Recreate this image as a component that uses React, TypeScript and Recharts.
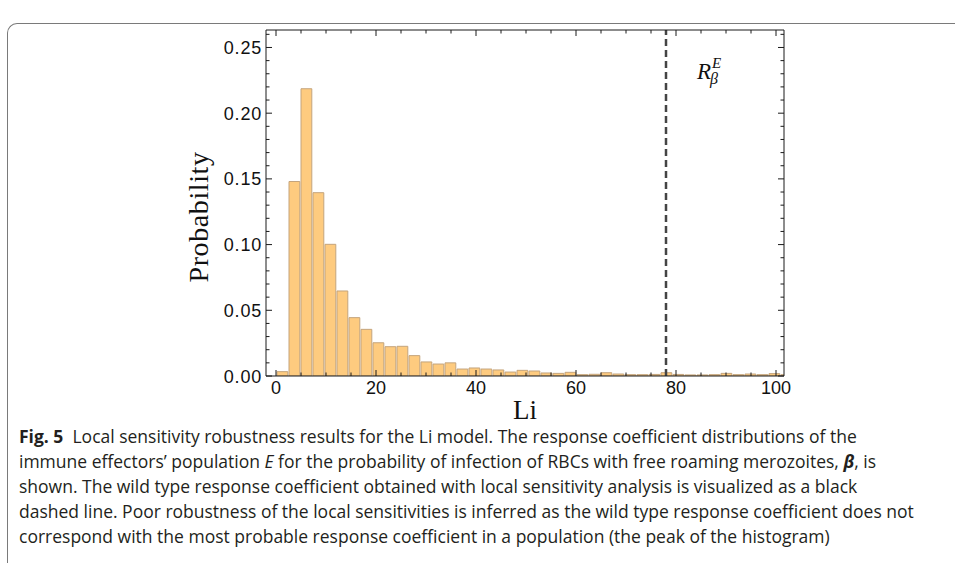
import React from 'react';
import { ComposedChart, Bar, XAxis, YAxis, ReferenceLine } from 'recharts';

// histogram bins (left edges, width 2.4) and probabilities
const binWidth = 2.4;
const binStarts = [
  0, 2.4, 4.8, 7.2, 9.6, 12, 14.4, 16.8, 19.2, 21.6, 24, 26.4, 28.8, 31.2, 33.6,
  36, 38.4, 40.8, 43.2, 45.6, 48, 50.4, 52.8, 55.2, 57.6, 60, 62.4, 64.8, 67.2,
  69.6, 72, 74.4, 76.8, 79.2, 81.6, 84, 86.4, 88.8, 91.2, 93.6, 96, 98.4, 100.8,
];
const probabilities = [
  0.0033, 0.148, 0.2186, 0.1395, 0.1002, 0.0647, 0.0444, 0.0355, 0.0253, 0.0223,
  0.0226, 0.0155, 0.0107, 0.0091, 0.01, 0.0053, 0.0061, 0.0053, 0.0046, 0.003,
  0.0043, 0.0038, 0.0023, 0.002, 0.0028, 0.001, 0.0013, 0.0025, 0.0015, 0.001,
  0.001, 0.0012, 0.0025, 0.0012, 0.0008, 0.0008, 0.001, 0.002, 0.001, 0.0015,
  0.001, 0.0018, 0.001,
];
const wildType = 78;

const xTicks = [0, 5, 10, 15, 20, 25, 30, 35, 40, 45, 50, 55, 60, 65, 70, 75, 80, 85, 90, 95, 100];
const xLabels = [0, 20, 40, 60, 80, 100];
const yTicks = [
  0, 0.01, 0.02, 0.03, 0.04, 0.05, 0.06, 0.07, 0.08, 0.09, 0.1, 0.11, 0.12, 0.13,
  0.14, 0.15, 0.16, 0.17, 0.18, 0.19, 0.2, 0.21, 0.22, 0.23, 0.24, 0.25, 0.26,
];
const yLabels = [0, 0.05, 0.1, 0.15, 0.2, 0.25];

const X_DOMAIN: [number, number] = [-2, 101.6];
const Y_DOMAIN: [number, number] = [0, 0.2633];

const data = binStarts.map((s, i) => ({ x: s + binWidth / 2, p: probabilities[i] }));

const FRAME = '#1a1a1a';
const TICK_FONT = 'Liberation Sans, Arial, sans-serif';
const SERIF = 'Liberation Serif, Times New Roman, serif';

const isLabelX = (v: number) => xLabels.includes(v);
const isLabelY = (v: number) => yLabels.some((l) => Math.abs(l - v) < 1e-9);

const BottomTick = ({ x, y, payload }: any) => {
  const major = isLabelX(payload.value);
  return (
    <g>
      <line x1={x} y1={y} x2={x} y2={y - (major ? 6 : 3.5)} stroke={FRAME} strokeWidth={1} />
      {major && (
        <text x={x} y={y + 18} textAnchor="middle" style={{ fontSize: 18, fontFamily: TICK_FONT }} fill="#111">
          {payload.value}
        </text>
      )}
    </g>
  );
};

const TopTick = ({ x, y, payload }: any) => {
  const major = isLabelX(payload.value);
  return <line x1={x} y1={y} x2={x} y2={y + (major ? 6 : 3.5)} stroke={FRAME} strokeWidth={1} />;
};

const LeftTick = ({ x, y, payload }: any) => {
  const major = isLabelY(payload.value);
  return (
    <g>
      <line x1={x} y1={y} x2={x + (major ? 6 : 3.5)} y2={y} stroke={FRAME} strokeWidth={1} />
      {major && (
        <text
          x={x - 4}
          y={y + 6.5}
          textAnchor="end"
          style={{ fontSize: 18, fontFamily: TICK_FONT, letterSpacing: 0.8 }}
          fill="#111"
        >
          {payload.value.toFixed(2)}
        </text>
      )}
    </g>
  );
};

const RightTick = ({ x, y, payload }: any) => {
  const major = isLabelY(payload.value);
  return <line x1={x} y1={y} x2={x - (major ? 6 : 3.5)} y2={y} stroke={FRAME} strokeWidth={1} />;
};

const ProbabilityLabel = ({ viewBox }: any) => {
  const cy = viewBox.y + viewBox.height / 2 + 14;
  return (
    <text
      x={208}
      y={cy}
      transform={`rotate(-90 208 ${cy})`}
      textAnchor="middle"
      style={{ fontSize: 28, fontFamily: SERIF, letterSpacing: 0.6 }}
      fill="#111"
    >
      Probability
    </text>
  );
};

const LiLabel = ({ viewBox }: any) => (
  <text
    x={viewBox.x + viewBox.width / 2}
    y={419}
    textAnchor="middle"
    style={{ fontSize: 27, fontFamily: SERIF }}
    fill="#111"
  >
    Li
  </text>
);

const CoefficientLabel = ({ viewBox }: any) => {
  const x = viewBox.x + 31;
  const y = viewBox.y + 49;
  return (
    <text style={{ fontFamily: SERIF, fontStyle: 'italic' }} fill="#111">
      <tspan x={x} y={y} style={{ fontSize: 23 }}>R</tspan>
      <tspan x={x + 15} y={y - 11} style={{ fontSize: 15 }}>E</tspan>
      <tspan x={x + 13} y={y + 5} style={{ fontSize: 16 }}>β</tspan>
    </text>
  );
};

const Caption = () => (
  <div
    style={{
      position: 'absolute',
      left: 19,
      top: 424,
      fontFamily: '"Open Sans", "Noto Sans", sans-serif',
      fontSize: 17.5,
      lineHeight: '25px',
      color: '#231f20',
      whiteSpace: 'nowrap',
    }}
  >
    <div>
      <b>Fig. 5</b>&nbsp; Local sensitivity robustness results for the Li model. The response coefficient distributions of the
    </div>
    <div>
      immune effectors’ population <i>E</i> for the probability of infection of RBCs with free roaming merozoites, <i><b>β</b></i>, is
    </div>
    <div>shown. The wild type response coefficient obtained with local sensitivity analysis is visualized as a black</div>
    <div>dashed line. Poor robustness of the local sensitivities is inferred as the wild type response coefficient does not</div>
    <div>correspond with the most probable response coefficient in a population (the peak of the histogram)</div>
  </div>
);

export default function App() {
  return (
    <div
      style={{
        position: 'absolute',
        left: 0,
        top: 0,
        width: 955,
        height: 563,
        background: '#fff',
        overflow: 'hidden',
      }}
    >
      <div
        style={{
          position: 'absolute',
          left: 7,
          top: 23,
          width: 1000,
          height: 600,
          borderTop: '1.5px solid #7a7a7a',
          borderLeft: '1.5px solid #7a7a7a',
          borderTopLeftRadius: 10,
        }}
      />
      <div style={{ position: 'absolute', left: 0, top: 0 }}>
        <ComposedChart
          width={955}
          height={430}
          data={data}
          margin={{ top: 29, right: 170, bottom: 24, left: 206 }}
          barCategoryGap={0}
          barGap={0}
        >
          <XAxis
            dataKey="x"
            type="number"
            domain={X_DOMAIN}
            allowDataOverflow
            ticks={xTicks}
            interval={0}
            tickSize={0}
            tickMargin={0}
            tickLine={false}
            tick={(props: any) => <BottomTick {...props} />}
            axisLine={{ stroke: FRAME, strokeWidth: 1 }}
            height={30}
            label={<LiLabel />}
          />
          <XAxis
            xAxisId="top"
            orientation="top"
            dataKey="x"
            type="number"
            domain={X_DOMAIN}
            allowDataOverflow
            ticks={xTicks}
            interval={0}
            tickSize={0}
            tickMargin={0}
            tickLine={false}
            tick={(props: any) => <TopTick {...props} />}
            axisLine={{ stroke: FRAME, strokeWidth: 1 }}
            height={1}
          />
          <YAxis
            type="number"
            domain={Y_DOMAIN}
            allowDataOverflow
            ticks={yTicks}
            interval={0}
            tickSize={0}
            tickMargin={0}
            tickLine={false}
            tick={(props: any) => <LeftTick {...props} />}
            axisLine={{ stroke: FRAME, strokeWidth: 1 }}
            width={60}
            label={<ProbabilityLabel />}
          />
          <YAxis
            yAxisId="right"
            orientation="right"
            type="number"
            domain={Y_DOMAIN}
            allowDataOverflow
            ticks={yTicks}
            interval={0}
            tickSize={0}
            tickMargin={0}
            tickLine={false}
            tick={(props: any) => <RightTick {...props} />}
            axisLine={{ stroke: FRAME, strokeWidth: 1 }}
            width={1}
          />
          <Bar
            dataKey="p"
            barSize={12}
            fill="#fecb7f"
            stroke="#c4a47c"
            strokeWidth={1}
            isAnimationActive={false}
          />
          <ReferenceLine
            x={wildType}
            stroke="#444"
            strokeWidth={2.5}
            strokeDasharray="7 4"
            label={<CoefficientLabel />}
          />
        </ComposedChart>
      </div>
      <Caption />
    </div>
  );
}
